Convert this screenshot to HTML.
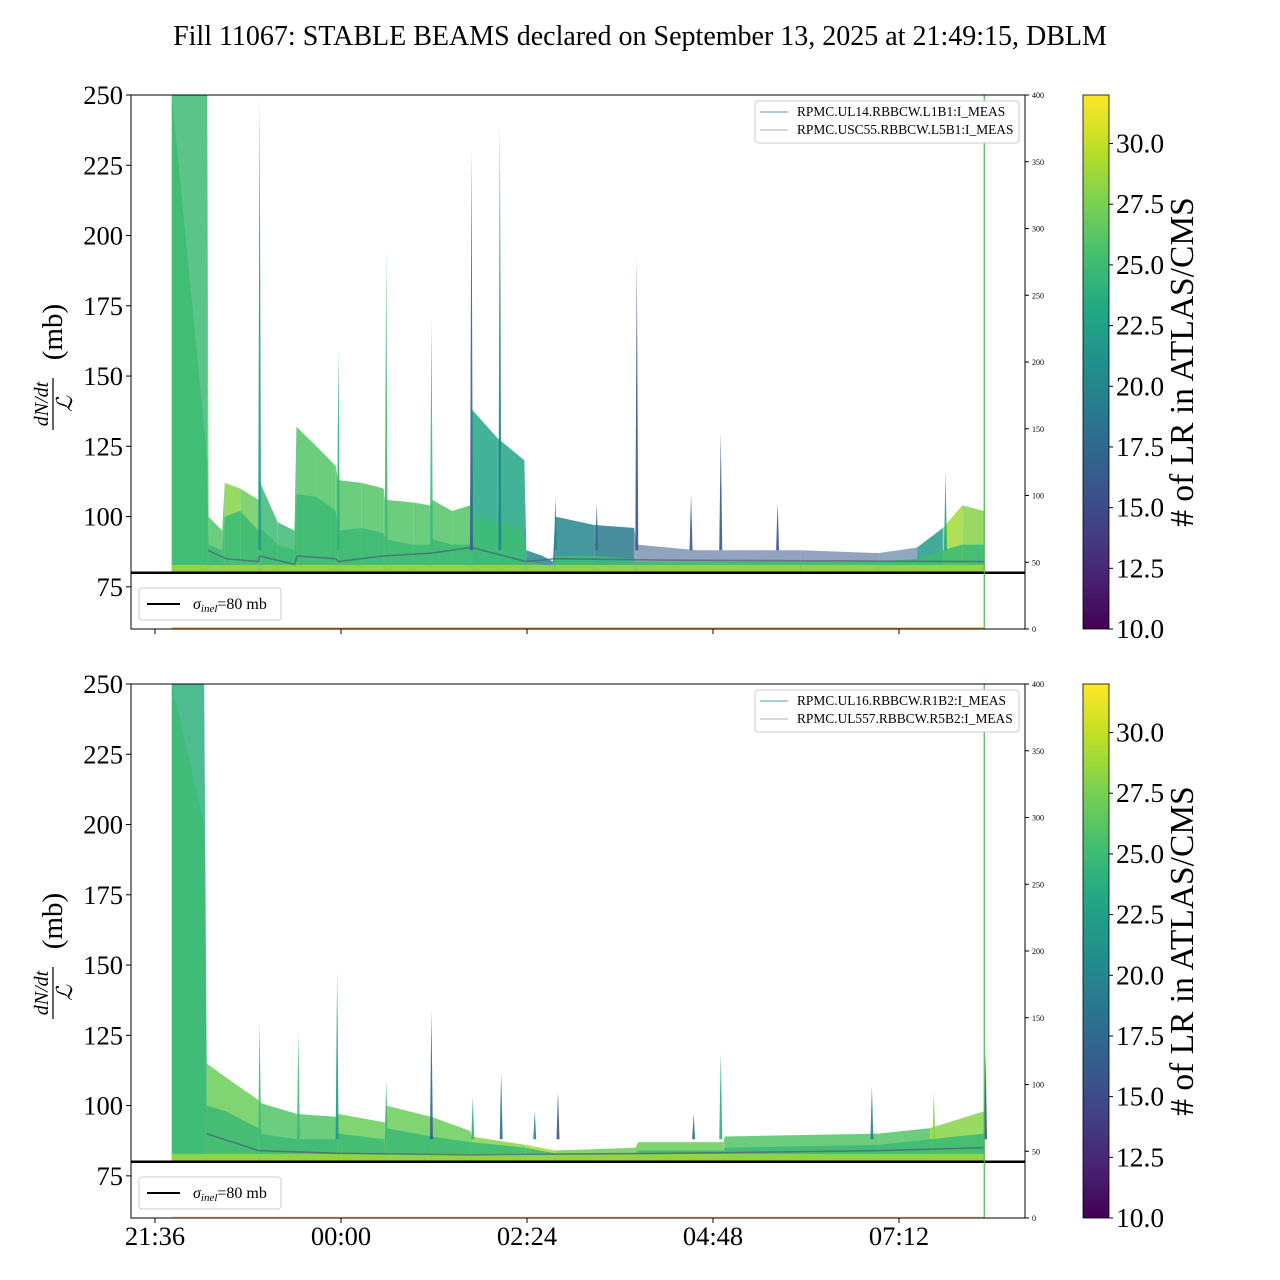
<!DOCTYPE html>
<html><head><meta charset="utf-8"><style>
html,body{margin:0;padding:0;background:#fff}
svg{display:block;font-family:"Liberation Serif","DejaVu Serif",serif}
</style></head><body>
<svg id="fig" width="1280" height="1280" viewBox="0 0 1280 1280" xmlns="http://www.w3.org/2000/svg">
<defs>
<linearGradient id="vir" x1="0" y1="1" x2="0" y2="0">
<stop offset="0" stop-color="#440154"/><stop offset="0.1" stop-color="#482475"/><stop offset="0.2" stop-color="#414487"/><stop offset="0.3" stop-color="#355f8d"/><stop offset="0.4" stop-color="#2a788e"/><stop offset="0.5" stop-color="#21918c"/><stop offset="0.6" stop-color="#22a884"/><stop offset="0.7" stop-color="#44bf70"/><stop offset="0.8" stop-color="#7ad151"/><stop offset="0.9" stop-color="#bddf26"/><stop offset="1" stop-color="#fde725"/>
</linearGradient>
<clipPath id="clipTop"><rect x="131" y="95" width="894" height="534"/></clipPath>
<clipPath id="clipBot"><rect x="131" y="684" width="894" height="534"/></clipPath>
</defs>
<text x="640" y="45" text-anchor="middle" font-size="28">Fill 11067: STABLE BEAMS declared on September 13, 2025 at 21:49:15, DBLM</text>
<g id="panels"></g>
</svg>
<script>
// ---- data (time in minutes after 21:36) ----
const xTickLabels = ["21:36","00:00","02:24","04:48","07:12"];
const xTickTimes = [0,144,288,432,576];
const yTicks = [75,100,125,150,175,200,225,250];
const rightTicks = [0,50,100,150,200,250,300,350,400];
const cbTicks = [10,12.5,15,17.5,20,22.5,25,27.5,30];

const topTimes = [13,40.5,41.5,52,54,66,80,81.5,95,108,109.5,125,140,141.5,160,177,178,200,213,214.5,230,244,245.5,265,286,287.5,300,308,310,340,371,373,420,500,560,590,610,625,642];
const topUpper = [260,260,100,95,112,110,106,112,98,95,132,125,118,113,112,110,106,105,104,106,102,104,138,128,120,88,86,84,100,97,96,90,88,88,87,89,96,104,102];
const topMid   = [250,120,90,88,100,102,95,96,90,88,108,107,102,95,96,94,92,90,90,92,90,90,100,98,95,84,83,82,86,86,85,84,84,84,84,85,88,90,90];
const topLR    = [25,26,26,26,28,27,26,25,25,25,26,26,26,26,26,26,26,26,26,26,26,25,23,23,22,20,20,19,20,19,17,16,16,16,17,22,29,28,27];
const topMedT = [41,55,80,81,108,110,140,142,177,214,245,287,310,400,642];
const topMedV = [88,85,84,86,83,86,85,84,86,87,89,84,85,84.5,84];
const topSpikeT = [81,142,179,214,245,267,310,342,373,415,438,482,612];
const topSpikeV = [250,160,195,170,232,240,107,105,193,108,130,105,116];
const topSpikeLR = [22,24,25,25,17,20,20,18,16,16,16,16,23];

const botTimes = [13,38,40,55,80,81,110,141,142,178,179,214,244,245,287,310,372,374,440,441,560,600,642];
const botUpper = [260,260,115,110,102,101,97,96,97,94,100,96,91,89,86,84,85,87,87,89,90,92,98];
const botMid   = [250,200,100,98,92,90,88,88,90,88,92,89,87,87,85,83,83,84,84,85,86,88,90];
const botLR    = [24,24,27,27,27,26,26,26,27,28,27,27,26,28,29,27,27,27,27,26,26,28,29];
const botMedT = [40,80,142,245,400,560,642];
const botMedV = [90,84,83,82.5,83,84,85];
const botSpikeT = [81,111,141,179,214,246,268,294,312,417,438,555,603,643];
const botSpikeV = [130,126,148,109,134,103,112,98,105,97,119,107,105,120];
const botSpikeLR = [25,25,22,25,17,24,18,20,16,18,24,20,28,16];

const topLegend = ["RPMC.UL14.RBBCW.L1B1:I_MEAS","RPMC.USC55.RBBCW.L5B1:I_MEAS"];
const botLegend = ["RPMC.UL16.RBBCW.R1B2:I_MEAS","RPMC.UL557.RBBCW.R5B2:I_MEAS"];

// ---- helpers ----
const NS = "http://www.w3.org/2000/svg";
const X0 = 131, X1 = 1025;
const xScale = t => 155 + t * 186 / 144;
const VIR = [[68,1,84],[72,36,117],[65,68,135],[53,95,141],[42,120,142],[33,145,140],[34,168,132],[68,191,112],[122,209,81],[189,223,38],[253,231,37]];
function viridis(lr){
  let f = Math.max(0, Math.min(1, (lr - 10) / 22)) * (VIR.length - 1);
  let i = Math.min(VIR.length - 2, Math.floor(f)), r = f - i;
  const c = VIR[i].map((v, k) => Math.round(v + (VIR[i+1][k] - v) * r));
  return `rgb(${c[0]},${c[1]},${c[2]})`;
}
function mk(tag, attrs, parent){
  const e = document.createElementNS(NS, tag);
  for (const k in attrs) e.setAttribute(k, attrs[k]);
  if (parent) parent.appendChild(e);
  return e;
}
const root = document.getElementById('panels');

function drawPanel(y0, times, upper, mid, lr, medT, medV, spT, spV, spLR, legend, clipId, showXLabels, name){
  const y1 = y0 + 534;
  const yScale = v => y1 - (v - 60) * 534 / 190;
  const g = mk('g', {}, root);
  
  
  const plot = mk('g', {'clip-path': `url(#${clipId})`}, g);
  
  
  const base = 80.3;
  for (let i = 0; i < times.length - 1; i++){
    const xa = xScale(times[i]), xb = xScale(times[i+1]);
    const top = mk('polygon', {points: `${xa},${yScale(base)} ${xa},${yScale(upper[i])} ${xb},${yScale(upper[i+1])} ${xb},${yScale(base)}`, fill: viridis(lr[i]), 'fill-opacity': lr[i] < 19 ? 0.55 : 0.85}, plot);
    
    
    const m = mk('polygon', {points: `${xa},${yScale(base)} ${xa},${yScale(mid[i])} ${xb},${yScale(mid[i+1])} ${xb},${yScale(base)}`, fill: viridis(25), 'fill-opacity': 0.9}, plot);
    
    
    const yl = mk('polygon', {points: `${xa},${yScale(base)} ${xa},${yScale(base+2.5)} ${xb},${yScale(base+2.5)} ${xb},${yScale(base)}`, fill: viridis(29), 'fill-opacity': 0.8}, plot);
    
    
  }
  const med = mk('polyline', {points: medT.map((t, i) => `${xScale(t)},${yScale(medV[i])}`).join(' '), fill: 'none', stroke: '#4b5f7a', 'stroke-width': 1.6, 'stroke-opacity': 0.7}, plot);
  
  
  for (let i = 0; i < spT.length; i++){
    const x = xScale(spT[i]);
    const s = mk('polygon', {points: `${x-1.5},${yScale(88)} ${x},${yScale(spV[i])} ${x+1.5},${yScale(88)}`, fill: viridis(spLR[i]), 'fill-opacity': 0.9}, plot);
    
    
  }
  const sig = mk('line', {x1: X0, x2: X1, y1: yScale(80), y2: yScale(80), stroke: '#000', 'stroke-width': 2.5}, g);
  
  
  const or = mk('line', {x1: xScale(13), x2: xScale(642), y1: y1 - 1, y2: y1 - 1, stroke: '#ff7f0e', 'stroke-width': 1, 'stroke-opacity': clipId === 'clipTop' ? 0.9 : 0.3}, g);
  
  
  const gl = mk('line', {x1: xScale(642), x2: xScale(642), y1: y0, y2: y1, stroke: '#4caf50', 'stroke-width': 1.2}, g);
  
  
  const fr = mk('rect', {x: X0, y: y0, width: X1 - X0, height: 534, fill: 'none', stroke: '#000', 'stroke-width': 1}, g);
  
  
  yTicks.forEach(v => {
    const y = yScale(v);
    mk('line', {x1: X0 - 5, x2: X0, y1: y, y2: y, stroke: '#000'}, g);
    const t = mk('text', {x: 123, y: y + 9, 'text-anchor': 'end', 'font-size': 26.5}, g);
    t.textContent = v;
    
    
  });
  rightTicks.forEach(v => {
    const y = y1 - v * 534 / 400;
    mk('line', {x1: X1, x2: X1 + 4, y1: y, y2: y, stroke: '#000'}, g);
    const t = mk('text', {x: 1032, y: y + 3, 'font-size': 8}, g);
    t.textContent = v;
    
    
  });
  xTickTimes.forEach((tt, i) => {
    const x = xScale(tt);
    mk('line', {x1: x, x2: x, y1: y1, y2: y1 + 5, stroke: '#000'}, g);
    if (showXLabels){
      const t = mk('text', {x: x, y: y1 + 27, 'text-anchor': 'middle', 'font-size': 26.5}, g);
      t.textContent = xTickLabels[i];
      
      
    }
  });
  const yl = mk('g', {transform: `translate(52,${y0 + 267}) rotate(-90)`}, g);
  
  
  const num = mk('text', {x: -42, y: -4, 'text-anchor': 'middle', 'font-size': 20, 'font-style': 'italic'}, yl);
  num.textContent = 'dN/dt';
  mk('line', {x1: -68, x2: -16, y1: 1, y2: 1, stroke: '#000', 'stroke-width': 1.2}, yl);
  const den = mk('text', {x: -42, y: 20, 'text-anchor': 'middle', 'font-size': 22, 'font-style': 'italic'}, yl);
  den.textContent = 'ℒ';
  const mb = mk('text', {x: 30, y: 10, 'text-anchor': 'middle', 'font-size': 29}, yl);
  mb.textContent = '(mb)';
  const sl = mk('g', {}, g);
  
  
  mk('rect', {x: 139, y: y0 + 493, width: 142, height: 32, rx: 3, fill: '#fff', stroke: '#ccc'}, sl);
  mk('line', {x1: 147, x2: 180, y1: y0 + 509, y2: y0 + 509, stroke: '#000', 'stroke-width': 2}, sl);
  const st = mk('text', {x: 193, y: y0 + 514, 'font-size': 16}, sl);
  st.innerHTML = '<tspan font-style="italic">σ</tspan><tspan font-style="italic" font-size="11" dy="3">inel</tspan><tspan dy="-3">=80 mb</tspan>';
  const lg = mk('g', {}, g);
  
  
  mk('rect', {x: 755, y: y0 + 6, width: 264, height: 42, rx: 3, fill: '#fff', stroke: '#ccc'}, lg);
  const cols = ['#1f77b4', '#999999'];
  legend.forEach((lab, i) => {
    const yy = y0 + 17 + i * 18;
    const ln = mk('line', {x1: 760, x2: 788, y1: yy, y2: yy, stroke: cols[i], 'stroke-width': 0.8}, lg);
    
    
    const t = mk('text', {x: 797, y: yy + 4, 'font-size': 13.4}, lg);
    t.textContent = lab;
    
    
  });
  const cb = mk('g', {}, g);
  
  
  mk('rect', {x: 1083, y: y0, width: 26, height: 534, fill: 'url(#vir)', stroke: '#000', 'stroke-width': 0.8}, cb);
  cbTicks.forEach(v => {
    const y = y1 - (v - 10) * 534 / 22;
    mk('line', {x1: 1109, x2: 1113, y1: y, y2: y, stroke: '#000'}, cb);
    const t = mk('text', {x: 1116, y: y + 9, 'font-size': 27.5}, cb);
    t.textContent = v.toFixed(1);
    
    
  });
  const cl = mk('text', {transform: `translate(1193,${y0 + 267}) rotate(-90)`, 'text-anchor': 'middle', 'font-size': 33.5}, cb);
  cl.textContent = '# of LR in ATLAS/CMS';
  
  
}

drawPanel(95, topTimes, topUpper, topMid, topLR, topMedT, topMedV, topSpikeT, topSpikeV, topSpikeLR, topLegend, 'clipTop', false, 'top-panel');
drawPanel(684, botTimes, botUpper, botMid, botLR, botMedT, botMedV, botSpikeT, botSpikeV, botSpikeLR, botLegend, 'clipBot', true, 'bottom-panel');
</script>
</body></html>
